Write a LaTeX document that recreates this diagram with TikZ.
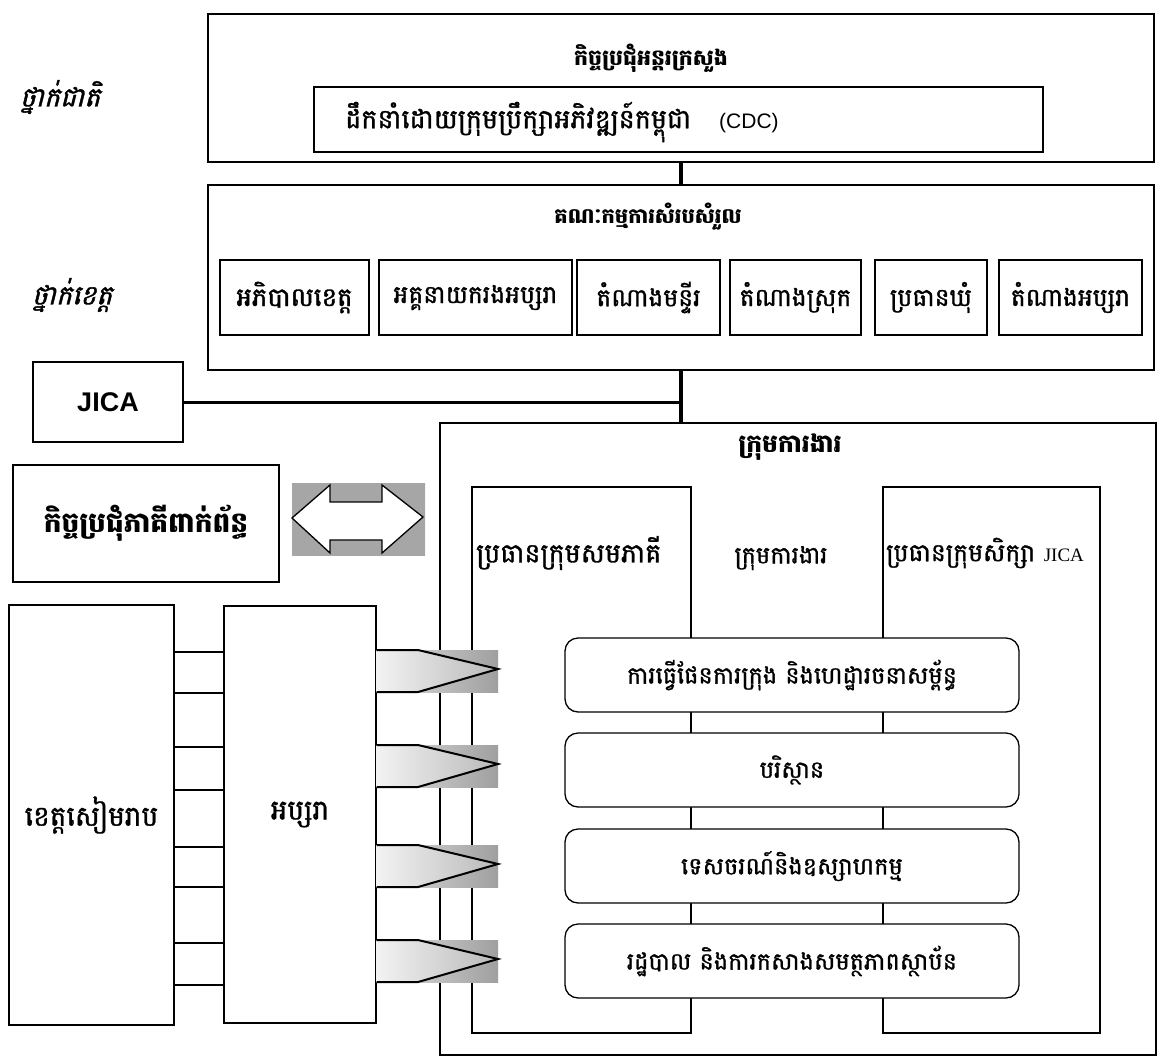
\documentclass[tikz,border=0pt]{standalone}
\usepackage{fontspec}
\setmainfont{Liberation Serif}
\newfontfamily\khmer[Script=Khmer]{Battambang}
\newfontfamily\khmerm[Script=Khmer,FakeBold=1.2]{Battambang}
\newfontfamily\khmerit[Script=Khmer,FakeSlant=0.25,FakeBold=1.4]{Battambang}
\newfontfamily\arialf{Liberation Sans}
\begin{document}
\begin{tikzpicture}[x=1pt,y=1pt,yscale=-1,
  box/.style={draw,line width=1.3pt,inner sep=0pt,fill=white},
  rbox/.style={box,rounded corners=13pt},
  txt/.style={inner sep=0pt,font=\khmerm\fontsize{25}{28}\selectfont},
  big/.style={inner sep=0pt,font=\khmerm\fontsize{28}{32}\selectfont},
  ttl/.style={inner sep=0pt,font=\khmer\bfseries\fontsize{22}{26}\selectfont},
  lvl/.style={inner sep=0pt,font=\khmerit\fontsize{27}{30}\selectfont},
  link/.style={line width=4pt},
  wire/.style={line width=1.3pt},
  shade/.style={left color=gray!25,right color=gray!75}]
\useasboundingbox (0,0) rectangle (1158,1057);
% national level
\node[box,minimum width=946pt,minimum height=148pt] (inter) at (681,88) {};
\node[ttl] (interttl) at (651,58) {កិច្ចប្រជុំអន្តរក្រសួង};
\node[box,minimum width=729pt,minimum height=65pt] (cdc) at (678.5,119.5) {};
\node[txt,anchor=west,font=\khmerm\fontsize{27}{30}\selectfont] (cdctxt) at (345,122)
  {ដឹកនាំដោយក្រុមប្រឹក្សាអភិវឌ្ឍន៍កម្ពុជា\hspace{28pt}{\arialf\fontsize{21}{24}\selectfont (CDC)}};
\node[lvl] (natlvl) at (60,97) {ថ្នាក់ជាតិ};
% provincial level
\node[box,minimum width=946pt,minimum height=185pt] (coord) at (681,277.5) {};
\node[ttl,font=\khmer\bfseries\fontsize{21}{24}\selectfont] (coordttl) at (648,217) {គណៈកម្មការសំរបសំរួល};
\node[box,txt,font=\khmerm\fontsize{26}{30}\selectfont,minimum width=149pt,minimum height=75pt] (gov) at (294.5,297.5) {អភិបាលខេត្ត};
\node[box,txt,minimum width=193pt,minimum height=75pt] (dg) at (475.5,297.5) {អគ្គនាយករងអប្សរា};
\node[box,txt,minimum width=143pt,minimum height=75pt] (dept) at (648.5,297.5) {តំណាងមន្ទីរ};
\node[box,txt,minimum width=131pt,minimum height=75pt] (dist) at (795.5,297.5) {តំណាងស្រុក};
\node[box,txt,minimum width=112pt,minimum height=75pt] (comm) at (931,297.5) {ប្រធានឃុំ};
\node[box,txt,minimum width=143pt,minimum height=75pt] (apsrep) at (1070.5,297.5) {តំណាងអប្សរា};
\node[lvl] (provlvl) at (72,295) {ថ្នាក់ខេត្ត};
\draw[link] (inter.south) -- (coord.north);
% working group
\node[box,minimum width=716pt,minimum height=632pt] (wg) at (798,739) {};
\node[ttl,font=\khmer\bfseries\fontsize{25}{28}\selectfont] (wgttl) at (790,447) {ក្រុមការងារ};
\node[box,minimum width=150pt,minimum height=80pt,font=\arialf\bfseries\fontsize{27}{30}\selectfont] (jica) at (108,402) {JICA};
\coordinate (hub) at (coord.south |- jica.east);
\draw[link] (coord.south) -- (coord.south |- wg.north);
\draw[line width=3pt] (jica.east) -- (hub);
\node[box,minimum width=219pt,minimum height=546pt] (colL) at (581.5,760) {};
\node[box,minimum width=217pt,minimum height=546pt] (colR) at (991.5,760) {};
\node[txt,anchor=west,font=\khmerm\fontsize{27}{30}\selectfont] (colLtxt) at (476,553) {ប្រធានក្រុមសមភាគី};
\node[txt,anchor=west] (colRtxt) at (886,553) {ប្រធានក្រុមសិក្សា {\rmfamily\fontsize{19}{22}\selectfont JICA}};
\node[txt,font=\khmerm\fontsize{24}{28}\selectfont] (midtxt) at (781,558) {ក្រុមការងារ};
\node[rbox,txt,font=\khmerm\fontsize{24}{28}\selectfont,minimum width=454pt,minimum height=74pt] (plan) at (792,675) {ការធ្វើផែនការក្រុង និងហេដ្ឋារចនាសម្ព័ន្ធ};
\node[rbox,txt,font=\khmerm\fontsize{24}{28}\selectfont,minimum width=454pt,minimum height=74pt] (env) at (792,770) {បរិស្ថាន};
\node[rbox,txt,font=\khmerm\fontsize{24}{28}\selectfont,minimum width=454pt,minimum height=74pt] (tour) at (792,866) {ទេសចរណ៍និងឧស្សាហកម្ម};
\node[rbox,txt,font=\khmerm\fontsize{24}{28}\selectfont,minimum width=454pt,minimum height=74pt] (admin) at (792,961) {រដ្ឋបាល និងការកសាងសមត្ថភាពស្ថាប័ន};
% stakeholders
\node[box,minimum width=266pt,minimum height=117pt,font=\khmer\bfseries\fontsize{28}{32}\selectfont] (meet) at (146,523.5) {កិច្ចប្រជុំភាគីពាក់ព័ន្ធ};
\fill[shade,left color=gray!70,middle color=gray!30,right color=gray!70] (292,483) rectangle (425,555);
\draw[wire,fill=white] (292,518) -- (330,485) -- (330,502) -- (382,502) -- (382,485) -- (423,517)
  -- (382,553) -- (382,540) -- (330,540) -- (330,553) -- cycle;
\node[box,big,minimum width=165pt,minimum height=420pt] (siem) at (91.5,815) {ខេត្តសៀមរាប};
\node[box,big,minimum width=152pt,minimum height=417pt] (aps) at (300,814.5) {អប្សរា};
\foreach \y in {652,693,747,790,847,887,943,985}
  \draw[wire] (siem.east |- 0,\y) -- (aps.west |- 0,\y);
\foreach \c in {671,766,866,961}{
  \fill[shade] (aps.east |- 0,\c-21) rectangle (498,\c+21);
  \draw[line width=2pt,left color=gray!10,right color=gray!55] (aps.east |- 0,\c-21) -- (418,\c-21) -- (498,\c-2)
    -- (418,\c+21) -- (aps.east |- 0,\c+21);
}
\end{tikzpicture}
\end{document}
